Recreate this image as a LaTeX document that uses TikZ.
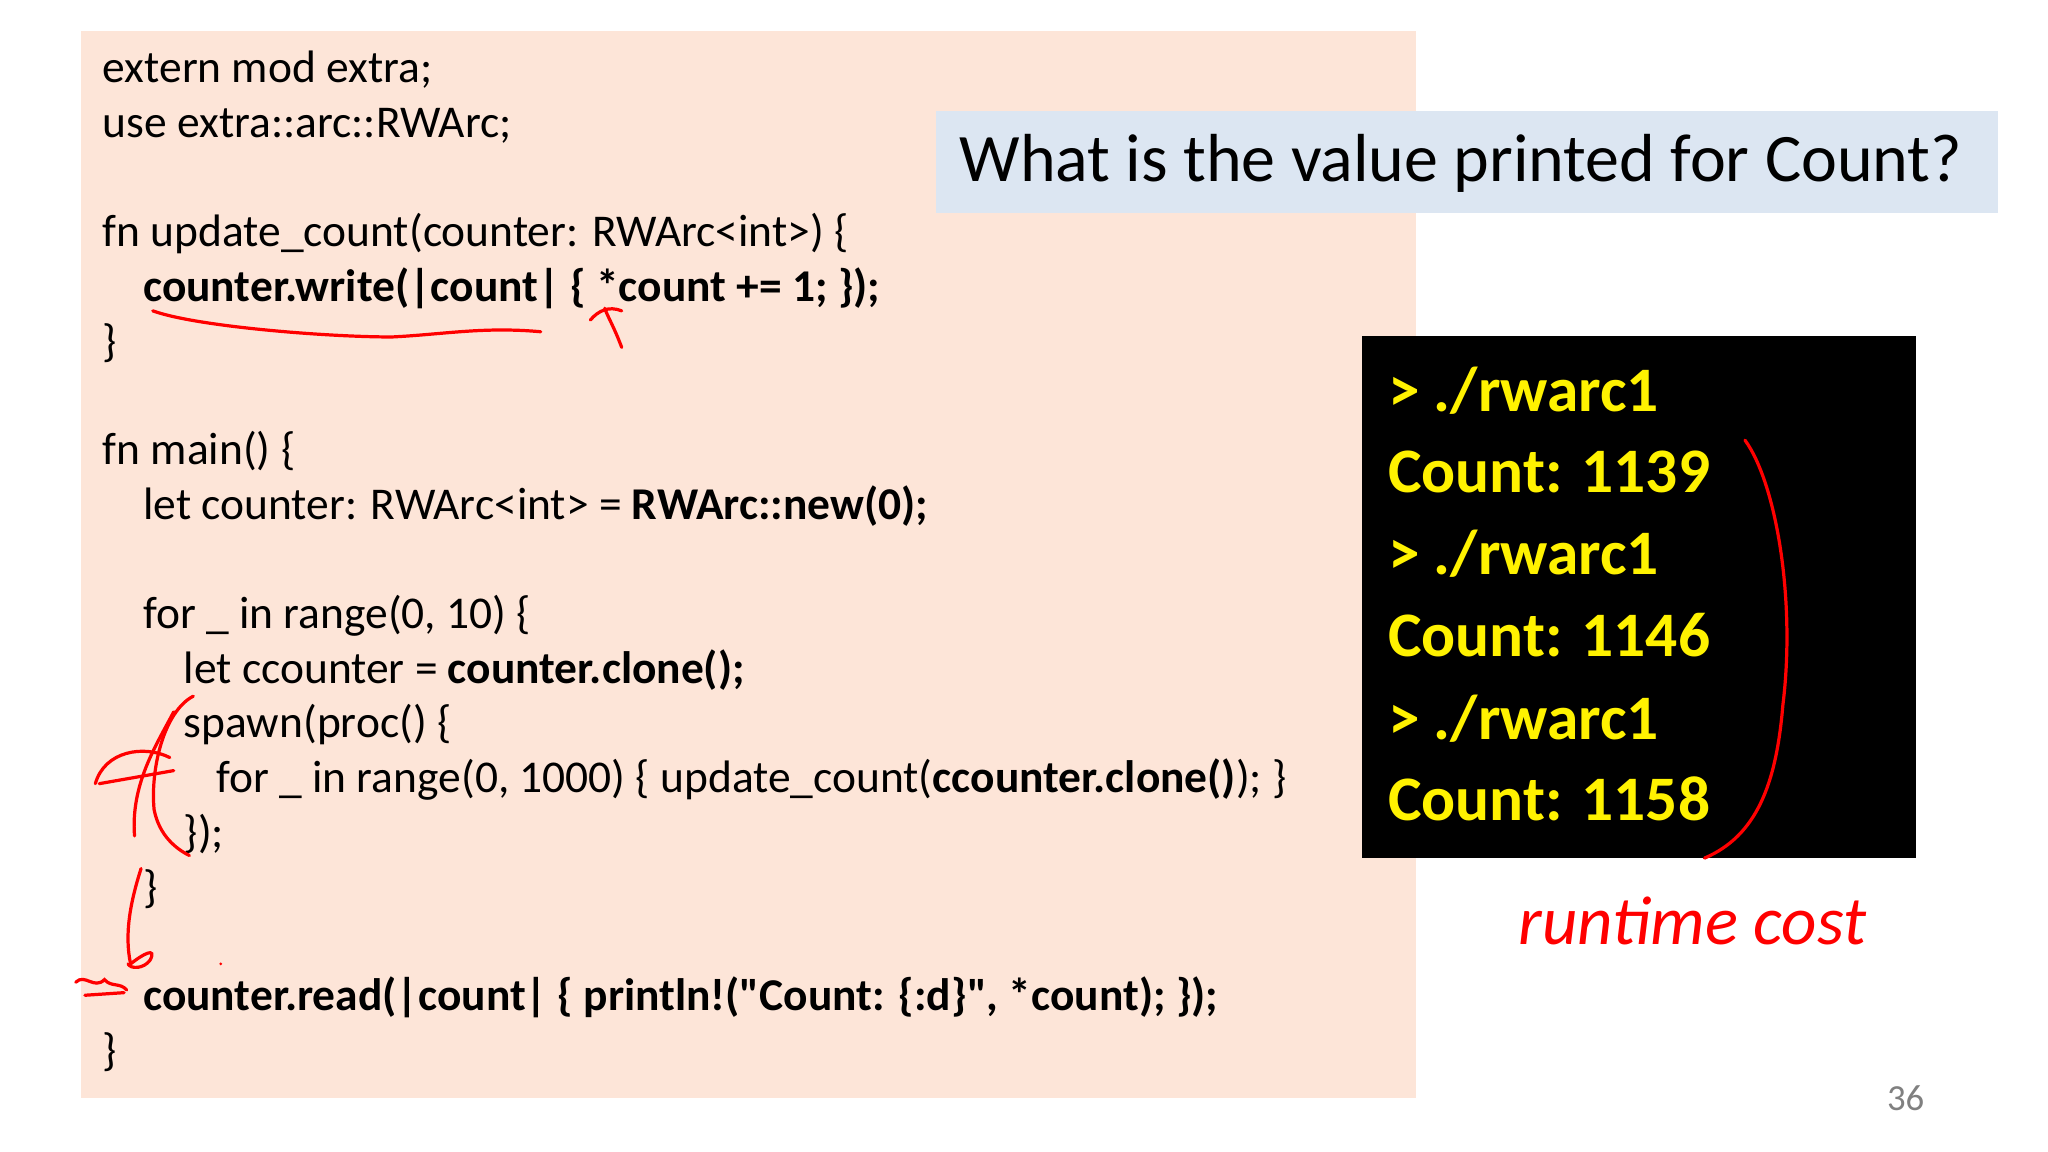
\documentclass[tikz,border=0pt]{standalone}
\usepackage{fontspec}
\setmainfont{Carlito}
\begin{document}
\begin{tikzpicture}[x=0.01cm,y=-0.01cm,
  code/.style={anchor=base west,inner sep=0pt,font=\fontsize{9.9pt}{11pt}\selectfont},
  term/.style={anchor=base west,inner sep=0pt,text=yellow,font=\bfseries\fontsize{13.8pt}{16pt}\selectfont},
  ink/.style={red,line width=0.7pt,line cap=round}]
\useasboundingbox (0,0) rectangle (1568,882);
\fill[white] (0,0) rectangle (1568,882);
\fill[fill={rgb,255:red,253;green,229;blue,216}] (62,24) rectangle (1084,841);
\fill[fill={rgb,255:red,220;green,230;blue,242}] (717,85) rectangle (1530,163);
\node[anchor=west,inner sep=0pt,font=\fontsize{14.8pt}{16pt}\selectfont] (q) at (734,125) {What is the value printed for Count?};
\fill[black] (1043,257) rectangle (1467,657);
\node[code] (l1) at (78,63) {extern mod extra;};
\node[code] (l2) at (78,105) {use extra::arc::RWArc;};
\node[code] (l3) at (78,189) {fn update\_count(counter: RWArc<int>) \{};
\node[code] (l4) at (109,231) {\textbf{counter.write(|count| \{ *count += 1; \});}};
\node[code] (l5) at (78,273) {\}};
\node[code] (l6) at (78,356) {fn main() \{};
\node[code] (l7) at (109,398) {let counter: RWArc<int> = \textbf{RWArc::new(0);}};
\node[code] (l8) at (109,481) {for \_ in range(0, 10) \{};
\node[code] (l9) at (140,523) {let ccounter = \textbf{counter.clone();}};
\node[code] (l10) at (140,565) {spawn(proc() \{};
\node[code] (l11) at (165,607) {for \_ in range(0, 1000) \{ update\_count(\textbf{ccounter.clone()}); \}};
\node[code] (l12) at (140,649) {\});};
\node[code] (l13) at (109,691) {\}};
\node[code] (l14) at (109,774) {\textbf{counter.read(|count| \{ println!(\textquotedbl Count: \{:d\}\textquotedbl, *count); \});}};
\node[code] (l15) at (78,816) {\}};
\node[term] (t1) at (1062,315) {> ./rwarc1};
\node[term] (t2) at (1062,377) {Count: 1139};
\node[term] (t3) at (1062,440) {> ./rwarc1};
\node[term] (t4) at (1062,503) {Count: 1146};
\node[term] (t5) at (1062,566) {> ./rwarc1};
\node[term] (t6) at (1062,628) {Count: 1158};
\node[anchor=base east,inner sep=0pt,text=gray,font=\fontsize{8pt}{10pt}\selectfont] (pg) at (1474,850) {36};
\node[anchor=west,inner sep=0pt,text=red,font=\itshape\fontsize{15pt}{16pt}\selectfont] (rc) at (1162,705) {runtime cost};
% red ink
\draw[ink] (117,238) .. controls (150,250) and (250,258) .. (300,258) .. controls (340,256) and (370,250) .. (414,254);
\draw[ink] (476,266) .. controls (470,250) and (465,242) .. (463,236);
\draw[ink] (452,245) .. controls (458,238) and (466,234) .. (476,238);
\draw[ink] (1336,337) .. controls (1360,370) and (1375,460) .. (1365,540) .. controls (1360,600) and (1345,640) .. (1305,657);
\draw[ink] (148,533) .. controls (125,545) and (115,590) .. (118,620) .. controls (122,640) and (135,650) .. (145,655);
\draw[ink] (133,545) .. controls (120,570) and (100,600) .. (103,640);
\draw[ink] (73,600) .. controls (80,575) and (110,570) .. (130,580);
\draw[ink] (76,600) -- (133,590);
\draw[ink] (108,665) .. controls (100,690) and (95,715) .. (100,738);
\draw[ink] (100,738) .. controls (110,730) and (120,725) .. (115,735) .. controls (110,742) and (100,742) .. (98,738);
\draw[ink] (58,752) .. controls (65,745) and (72,758) .. (80,750) .. controls (85,756) and (92,752) .. (97,758);
\draw[ink] (65,762) -- (95,760);
\fill[red] (169,738) circle (1.2);
\end{tikzpicture}
\end{document}
